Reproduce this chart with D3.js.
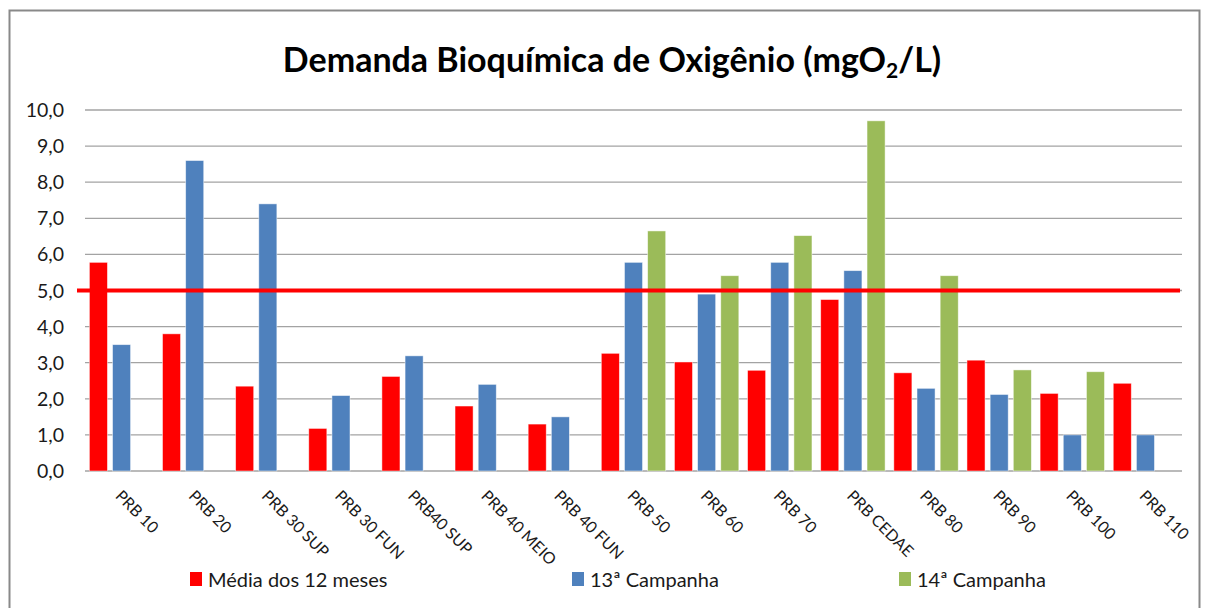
<!DOCTYPE html>
<html>
<head>
<meta charset="utf-8">
<script src="https://cdnjs.cloudflare.com/ajax/libs/d3/7.8.5/d3.min.js"></script>
<style>
    body { margin: 0; background: #fff; }
    text { font-family: Lato, "Open Sans", sans-serif; fill: #1a1a1a; }
</style>
</head>
<body>
<div id="chart"></div>
<script>
// stations along the river
const categories = ["PRB 10", "PRB 20", "PRB 30 SUP", "PRB 30 FUN", "PRB40 SUP", "PRB 40 MEIO",
    "PRB 40 FUN", "PRB 50", "PRB 60", "PRB 70", "PRB CEDAE", "PRB 80", "PRB 90", "PRB 100", "PRB 110"];
const seriesNames = ["Média dos 12 meses", "13ª Campanha", "14ª Campanha"];
const media12 = [5.78, 3.80, 2.35, 1.18, 2.62, 1.80, 1.30, 3.26, 3.02, 2.79, 4.75, 2.72, 3.07, 2.15, 2.43];
const campanha13 = [3.50, 8.60, 7.40, 2.09, 3.19, 2.40, 1.50, 5.78, 4.90, 5.78, 5.55, 2.29, 2.12, 1.00, 1.00];
const campanha14 = [null, null, null, null, null, null, null, 6.65, 5.41, 6.52, 9.70, 5.41, 2.80, 2.75, null];
const yTicks = [0, 1, 2, 3, 4, 5, 6, 7, 8, 9, 10];
const limite = 5.0;
const colors = ["#FF0000", "#4F81BD", "#9BBB59"];

const width = 1208, height = 608;
const svg = d3.select("#chart").append("svg")
    .attr("width", width)
    .attr("height", height);

svg.append("rect")
    .attr("width", width)
    .attr("height", height)
    .attr("fill", "#fff");

// outer frame of the chart
svg.append("rect")
    .attr("x", 9.5)
    .attr("y", 10.5)
    .attr("width", 1190)
    .attr("height", 640)
    .attr("fill", "none")
    .attr("stroke", "#898989")
    .attr("stroke-width", 2);

const x = d3.scaleBand()
    .domain(categories)
    .range([85, 1182]);
const bw = x.bandwidth();
const x1 = d3.scaleBand()
    .domain(seriesNames)
    .range([bw / 2 - 32.2, bw / 2 + 32.2])
    .paddingInner(0.22);
const y = d3.scaleLinear()
    .domain([0, 10])
    .range([471, 110]);

// gridlines
svg.append("g")
    .selectAll("line")
    .data(yTicks)
    .join("line")
    .attr("x1", 85)
    .attr("x2", 1182)
    .attr("y1", d => y(d))
    .attr("y2", d => y(d))
    .attr("stroke", "#a3a3a3")
    .attr("stroke-width", 1.3);

// y labels
svg.append("g")
    .selectAll("text")
    .data(yTicks)
    .join("text")
    .attr("x", 64)
    .attr("y", d => y(d))
    .attr("dy", "0.36em")
    .attr("text-anchor", "end")
    .attr("font-size", 19.5)
    .text(d => d.toFixed(1).replace(".", ","));

// bars
const rows = categories.map((c, i) => ({cat: c, vals: [media12[i], campanha13[i], campanha14[i]]}));
const groups = svg.append("g")
    .selectAll("g")
    .data(rows)
    .join("g")
    .attr("transform", d => "translate(" + x(d.cat) + ",0)");
groups.selectAll("rect")
    .data(d => d.vals.map((v, k) => ({name: seriesNames[k], v: v, k: k})).filter(e => e.v !== null))
    .join("rect")
    .attr("x", d => x1(d.name))
    .attr("width", x1.bandwidth())
    .attr("y", d => y(d.v))
    .attr("height", d => y(0) - y(d.v))
    .attr("fill", d => colors[d.k])
    .attr("stroke", "#ffffff")
    .attr("stroke-opacity", 0.6)
    .attr("stroke-width", 0.8);

// limit line
svg.append("line")
    .attr("x1", 77)
    .attr("x2", 1180)
    .attr("y1", y(limite))
    .attr("y2", y(limite))
    .attr("stroke", "#FF0000")
    .attr("stroke-width", 4);

// x labels, rotated
svg.append("g")
    .selectAll("text")
    .data(categories)
    .join("text")
    .attr("transform", d => "translate(" + (x(d) + bw / 2 - 7) + ",497) rotate(45)")
    .attr("font-size", 16)
    .text(d => d);

// title
const title = svg.append("text")
    .attr("x", 612)
    .attr("y", 72)
    .attr("text-anchor", "middle")
    .attr("font-size", 34)
    .attr("font-weight", "bold")
    .style("fill", "#000");
title.append("tspan").text("Demanda Bioquímica de Oxigênio (mgO");
title.append("tspan").attr("font-size", 21).attr("dy", 6).text("2");
title.append("tspan").attr("dy", -6).text("/L)");

// legend
const legendX = [190, 572, 899];
const legend = svg.append("g")
    .selectAll("g")
    .data(seriesNames)
    .join("g")
    .attr("transform", (d, i) => "translate(" + legendX[i] + ",572)");
legend.append("rect")
    .attr("width", 12)
    .attr("height", 14)
    .attr("fill", (d, i) => colors[i]);
legend.append("text")
    .attr("x", 18)
    .attr("y", 15)
    .attr("font-size", 20)
    .text(d => d);
</script>
</body>
</html>
